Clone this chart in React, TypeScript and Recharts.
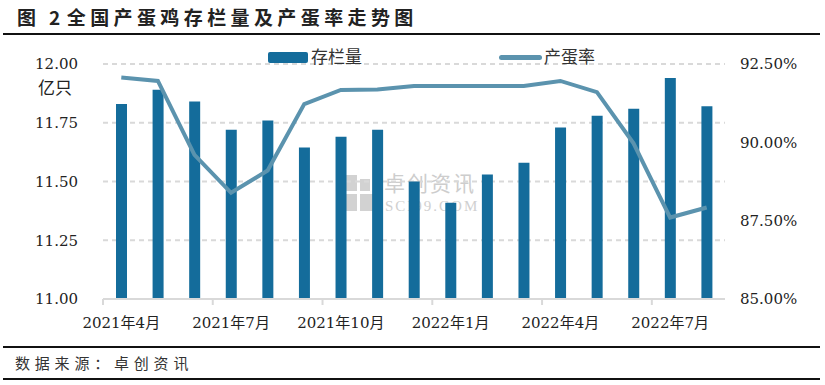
import { ComposedChart, Bar, Line, XAxis, YAxis, CartesianGrid } from 'recharts';

const months = [
  '2021年4月', '2021年5月', '2021年6月', '2021年7月', '2021年8月', '2021年9月',
  '2021年10月', '2021年11月', '2021年12月', '2022年1月', '2022年2月', '2022年3月',
  '2022年4月', '2022年5月', '2022年6月', '2022年7月', '2022年8月',
];
// 存栏量（亿只）
const stock = [
  11.83, 11.89, 11.84, 11.72, 11.76, 11.645, 11.69, 11.72, 11.5,
  11.41, 11.53, 11.58, 11.73, 11.78, 11.81, 11.94, 11.82,
];
// 产蛋率（%）
const layRate = [
  92.07, 91.96, 89.6, 88.39, 89.1, 91.22, 91.67, 91.69, 91.8,
  91.8, 91.8, 91.8, 91.96, 91.6, 89.97, 87.6, 87.92,
];
const leftTicks = [11, 11.25, 11.5, 11.75, 12];
const rightTicks = [85, 87.5, 90, 92.5];

const data = months.map((m, i) => ({ month: m, stock: stock[i], rate: layRate[i] }));

const BAR_COLOR = '#146c9b';
const LINE_COLOR = '#5b93ae';
const GRID = '#d9d9d9';
const NUM_FONT = '"DejaVu Serif", "Noto Sans CJK SC", serif';
const CJK_FONT = '"Noto Sans CJK SC", sans-serif';

const W = 825;
const H = 385;
const LEFT_W = 103;
const RIGHT_W = 100;
const band = (W - LEFT_W - RIGHT_W) / months.length;

const MonthTick = (props: any) => {
  const { x, y, index, payload } = props;
  if (index % 3 !== 0) return <g />;
  const bx = x - band / 2;
  return (
    <g>
      <line x1={bx} x2={bx} y1={y} y2={y + 6} stroke={GRID} strokeWidth={2} />
      <text
        x={x}
        y={y + 24}
        textAnchor="middle"
        dominantBaseline="central"
        fontFamily={NUM_FONT}
        fontSize={15}
        fill="#222"
      >
        {payload.value}
      </text>
    </g>
  );
};

export default function App() {
  return (
    <div style={{ position: 'absolute', left: 0, top: 0, width: W, height: H, background: '#fff', overflow: 'hidden' }}>
      {/* title */}
      <div style={{ position: 'absolute', left: 17, top: 4, fontFamily: CJK_FONT, fontWeight: 700, fontSize: 19, letterSpacing: 4.4, color: '#222', whiteSpace: 'nowrap', lineHeight: '26px' }}>
        图 2<span style={{ marginLeft: 2 }}>全国产蛋鸡存栏量及产蛋率走势图</span>
      </div>
      <div style={{ position: 'absolute', left: 3, top: 33, width: 817, height: 2, background: '#111' }} />

      {/* watermark */}
      <div style={{ position: 'absolute', left: 343, top: 175, width: 32, height: 36 }}>
        <div style={{ position: 'absolute', left: 0, top: 0, width: 14, height: 16, background: '#d2d2d2' }} />
        <div style={{ position: 'absolute', left: 17, top: 4, width: 10, height: 12, background: '#d2d2d2' }} />
        <div style={{ position: 'absolute', left: 0, top: 19, width: 14, height: 17, background: '#d2d2d2' }} />
        <div style={{ position: 'absolute', left: 17, top: 19, width: 14, height: 17, background: '#d2d2d2' }} />
      </div>
      <div style={{ position: 'absolute', left: 384, top: 172, fontFamily: CJK_FONT, fontSize: 21, color: '#cdcdcd', lineHeight: '21px', letterSpacing: 2 }}>
        卓创资讯
      </div>
      <div style={{ position: 'absolute', left: 385, top: 200, fontFamily: '"Liberation Serif", serif', fontSize: 15, color: '#d0d0d0', lineHeight: '13px', letterSpacing: 2 }}>
        SCI99.COM
      </div>

      <div style={{ position: 'absolute', left: 0, top: 0 }}>
        <ComposedChart width={W} height={H} data={data} margin={{ top: 64, right: 0, bottom: 56, left: 0 }}>
          <CartesianGrid yAxisId="left" vertical={false} stroke={GRID} strokeWidth={2} strokeDasharray="5 4" />
          <XAxis
            dataKey="month"
            interval={0}
            height={30}
            tickLine={false}
            tickSize={0}
            tickMargin={0}
            axisLine={{ stroke: GRID, strokeWidth: 2 }}
            tick={<MonthTick />}
          />
          <YAxis
            yAxisId="left"
            width={LEFT_W}
            domain={[11, 12]}
            ticks={leftTicks}
            tickFormatter={(v: number) => v.toFixed(2)}
            axisLine={false}
            tickLine={false}
            tickSize={0}
            tickMargin={25}
            tick={{ fontFamily: NUM_FONT, fontSize: 15, fill: '#222' }}
          />
          <YAxis
            yAxisId="right"
            orientation="right"
            width={RIGHT_W}
            domain={[85, 92.5]}
            ticks={rightTicks}
            tickFormatter={(v: number) => `${v.toFixed(2)}%`}
            axisLine={false}
            tickLine={false}
            tickSize={0}
            tickMargin={15}
            tick={{ fontFamily: NUM_FONT, fontSize: 15, fill: '#222' }}
          />
          <Bar yAxisId="left" dataKey="stock" name="存栏量" fill={BAR_COLOR} barSize={11} isAnimationActive={false} />
          <Line
            yAxisId="right"
            type="linear"
            dataKey="rate"
            name="产蛋率"
            stroke={LINE_COLOR}
            strokeWidth={4}
            dot={false}
            activeDot={false}
            isAnimationActive={false}
          />
        </ComposedChart>
      </div>

      {/* legend */}
      <div style={{ position: 'absolute', left: 0, top: 47, width: W, height: 20, fontFamily: CJK_FONT, fontSize: 17, color: '#333' }}>
        <div style={{ position: 'absolute', left: 268, top: 5, width: 40, height: 11, background: BAR_COLOR, borderRadius: 2 }} />
        <div style={{ position: 'absolute', left: 311, top: -1, lineHeight: '20px' }}>存栏量</div>
        <div style={{ position: 'absolute', left: 499, top: 8, width: 43, height: 5, background: LINE_COLOR, borderRadius: 3 }} />
        <div style={{ position: 'absolute', left: 544, top: -1, lineHeight: '20px' }}>产蛋率</div>
      </div>

      {/* unit */}
      <div style={{ position: 'absolute', left: 38, top: 76, fontFamily: CJK_FONT, fontSize: 17, color: '#222', lineHeight: '22px' }}>
        亿只
      </div>

      {/* source */}
      <div style={{ position: 'absolute', left: 3, top: 346, width: 817, height: 2, background: '#111' }} />
      <div style={{ position: 'absolute', left: 15, top: 352, fontFamily: CJK_FONT, fontSize: 15, letterSpacing: 4.8, color: '#333', lineHeight: '22px', whiteSpace: 'nowrap' }}>
        数据来源：卓创资讯
      </div>
      <div style={{ position: 'absolute', left: 3, top: 378, width: 817, height: 2, background: '#111' }} />
    </div>
  );
}
